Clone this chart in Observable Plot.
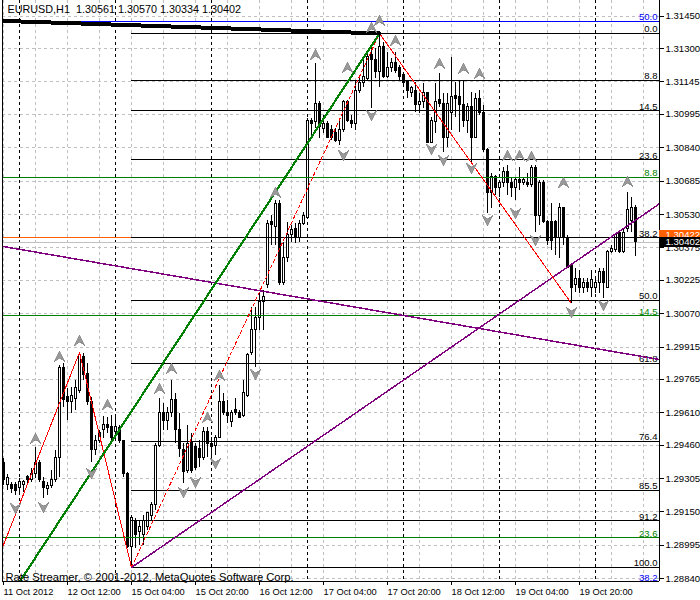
<!DOCTYPE html>
<html><head><meta charset="utf-8">
<script src="https://cdn.jsdelivr.net/npm/d3@7"></script>
<script src="https://cdn.jsdelivr.net/npm/@observablehq/plot@0.6"></script>
<style>body{margin:0;background:#fff}svg{shape-rendering:crispEdges}</style>
</head><body><div id="chart"></div>
<script>
// ---------- DATA ----------
const symbolName = "EURUSD,H1";
const openP = [1.29379,1.29277,1.29277,1.29277,1.29259,1.29273,1.29310,1.29296,1.29328,1.29375,1.29287,1.29254,1.29268,1.29296,1.29402,1.29820,1.29681,1.29662,1.29672,1.29713,
1.29867,1.29792,1.29658,1.29435,1.29481,1.29528,1.29551,1.29542,1.29519,1.29537,1.29477,1.29328,1.28985,1.29110,1.29055,1.29041,1.29078,1.29133,1.29180,1.29458,
1.29607,1.29574,1.29607,1.29667,1.29528,1.29435,1.29342,1.29472,1.29449,1.29444,1.29402,1.29519,1.29467,1.29458,1.29495,1.29658,1.29611,1.29565,1.29621,1.29607,
1.29597,1.29690,1.29885,1.29992,1.30048,1.30122,1.30201,1.30493,1.30470,1.30581,1.30210,1.30326,1.30433,1.30465,1.30419,1.30488,1.30516,1.30962,1.30957,1.31045,
1.30929,1.30952,1.30920,1.30910,1.30873,1.30920,1.31050,1.30966,1.30952,1.31105,1.31138,1.31161,1.31268,1.31245,1.31189,1.31305,1.31166,1.31208,1.31235,1.31208,
1.31175,1.31143,1.31096,1.31105,1.31036,1.31050,1.31092,1.30864,1.30957,1.31059,1.31045,1.30887,1.31003,1.31078,1.31073,1.31036,1.30966,1.31027,1.30887,1.31064,
1.30999,1.30827,1.30628,1.30702,1.30651,1.30674,1.30725,1.30674,1.30651,1.30688,1.30678,1.30678,1.30665,1.30748,1.30525,1.30678,1.30493,1.30493,1.30493,1.30419,
1.30558,1.30423,1.30293,1.30201,1.30233,1.30191,1.30210,1.30187,1.30191,1.30210,1.30261,1.30191,1.30354,1.30363,1.30442,1.30354,1.30465,1.30502,1.30561];
const highP = [1.29398,1.29324,1.29287,1.29287,1.29305,1.29296,1.29319,1.29352,1.29449,1.29389,1.29310,1.29287,1.29342,1.29435,1.29829,1.29839,1.29723,1.29727,1.29760,1.29890,
1.29885,1.29839,1.29681,1.29505,1.29528,1.29593,1.29588,1.29597,1.29588,1.29551,1.29481,1.29333,1.29133,1.29120,1.29110,1.29133,1.29143,1.29194,1.29467,1.29676,
1.29653,1.29635,1.29760,1.29700,1.29607,1.29467,1.29551,1.29514,1.29467,1.29481,1.29542,1.29542,1.29495,1.29505,1.29737,1.29700,1.29667,1.29621,1.29676,1.29621,
1.29760,1.29885,1.30099,1.30099,1.30168,1.30177,1.30502,1.30525,1.30595,1.30595,1.30400,1.30493,1.30479,1.30488,1.30502,1.30539,1.30976,1.30976,1.31231,1.31054,
1.30989,1.30962,1.30943,1.30929,1.30976,1.31059,1.31059,1.30989,1.31152,1.31161,1.31254,1.31282,1.31314,1.31300,1.31370,1.31328,1.31282,1.31254,1.31282,1.31221,
1.31184,1.31152,1.31124,1.31143,1.31092,1.31138,1.31096,1.30980,1.31138,1.31184,1.31092,1.31092,1.31259,1.31143,1.31152,1.31152,1.31045,1.31096,1.31092,1.31105,
1.31036,1.30836,1.30720,1.30711,1.30688,1.30748,1.30757,1.30702,1.30702,1.30748,1.30697,1.30720,1.30757,1.30757,1.30688,1.30688,1.30502,1.30581,1.30502,1.30581,
1.30563,1.30433,1.30303,1.30280,1.30270,1.30233,1.30233,1.30270,1.30233,1.30280,1.30280,1.30363,1.30386,1.30442,1.30446,1.30465,1.30632,1.30609,1.30570];
const lowP = [1.29273,1.29249,1.29236,1.29226,1.29236,1.29240,1.29282,1.29287,1.29305,1.29287,1.29212,1.29226,1.29259,1.29287,1.29310,1.29635,1.29574,1.29607,1.29621,1.29700,
1.29760,1.29644,1.29379,1.29412,1.29467,1.29491,1.29514,1.29481,1.29505,1.29467,1.29310,1.28980,1.28892,1.28980,1.28994,1.28994,1.29064,1.29110,1.29157,1.29449,
1.29528,1.29528,1.29588,1.29467,1.29402,1.29282,1.29328,1.29328,1.29342,1.29356,1.29389,1.29402,1.29402,1.29412,1.29491,1.29597,1.29560,1.29542,1.29597,1.29583,
1.29588,1.29681,1.29876,1.29820,1.29992,1.29992,1.30187,1.30386,1.30386,1.30201,1.30201,1.30307,1.30400,1.30395,1.30400,1.30479,1.30512,1.30883,1.30929,1.30883,
1.30906,1.30883,1.30873,1.30864,1.30850,1.30910,1.30957,1.30929,1.30920,1.31092,1.31119,1.31152,1.31022,1.31161,1.31119,1.31161,1.31161,1.31189,1.31184,1.31152,
1.31129,1.31068,1.31073,1.31003,1.30999,1.31022,1.30860,1.30860,1.30906,1.31027,1.30818,1.30841,1.30920,1.30980,1.30910,1.30934,1.30906,1.30771,1.30883,1.30989,
1.30818,1.30535,1.30558,1.30618,1.30609,1.30655,1.30618,1.30609,1.30595,1.30641,1.30665,1.30655,1.30655,1.30446,1.30479,1.30488,1.30386,1.30363,1.30340,1.30326,
1.30386,1.30280,1.30117,1.30168,1.30163,1.30163,1.30168,1.30145,1.30163,1.30163,1.30140,1.30187,1.30349,1.30354,1.30349,1.30349,1.30446,1.30446,1.30334];
const closeP = [1.29296,1.29305,1.29254,1.29249,1.29287,1.29287,1.29296,1.29328,1.29375,1.29296,1.29259,1.29268,1.29296,1.29402,1.29820,1.29667,1.29662,1.29686,1.29723,1.29876,
1.29783,1.29658,1.29435,1.29481,1.29514,1.29551,1.29537,1.29491,1.29542,1.29481,1.29328,1.28985,1.29120,1.29041,1.29078,1.29110,1.29143,1.29180,1.29458,1.29607,
1.29574,1.29607,1.29667,1.29528,1.29444,1.29333,1.29467,1.29342,1.29352,1.29402,1.29519,1.29467,1.29449,1.29495,1.29658,1.29607,1.29597,1.29607,1.29607,1.29588,
1.29700,1.29876,1.29992,1.30052,1.30122,1.30145,1.30488,1.30479,1.30581,1.30210,1.30330,1.30433,1.30456,1.30419,1.30488,1.30525,1.30966,1.30948,1.31045,1.30934,
1.30952,1.30887,1.30887,1.30873,1.30920,1.31050,1.30966,1.30952,1.31105,1.31138,1.31166,1.31259,1.31245,1.31189,1.31305,1.31166,1.31208,1.31235,1.31198,1.31166,
1.31138,1.31105,1.31115,1.31036,1.31050,1.31092,1.30864,1.30966,1.31050,1.31045,1.30887,1.31045,1.31073,1.31064,1.31036,1.30966,1.31027,1.30887,1.31068,1.31003,
1.30827,1.30628,1.30702,1.30651,1.30674,1.30725,1.30674,1.30651,1.30688,1.30678,1.30688,1.30665,1.30748,1.30525,1.30678,1.30493,1.30409,1.30409,1.30419,1.30558,
1.30423,1.30284,1.30191,1.30233,1.30191,1.30210,1.30187,1.30224,1.30214,1.30261,1.30214,1.30354,1.30372,1.30433,1.30354,1.30446,1.30549,1.30558,1.30402];

// price axis ticks and time labels (bar index of each label)
const priceTicks = [1.31450,1.31300,1.31145,1.30995,1.30840,1.30685,1.30530,1.30375,1.30225,1.30070,1.29915,1.29765,1.29610,1.29460,1.29305,1.29150,1.28995,1.28840];
const timeLabelIdx = [0,16,32,48,64,80,96,112,128,144];
const timeLabels = ["11 Oct 2012","12 Oct 12:00","15 Oct 04:00","15 Oct 20:00","16 Oct 12:00","17 Oct 04:00","17 Oct 20:00","18 Oct 12:00","19 Oct 04:00","19 Oct 20:00"];
const gridIdx = [0,8,16,24,32,40,48,56,64,72,80,88,96,104,112,120,128,136,144,152,160];
const daySepIdx = [4,28,52,76,100,124,148];

// Fibonacci levels
const fibBlackLevels = ["0.0","8.8","14.5","23.6","38.2","50.0","61.8","76.4","85.5","91.2","100.0"];
const fibBlackPrices = [1.31370,1.31152,1.31011,1.30785,1.30423,1.30131,1.29839,1.29477,1.29251,1.29110,1.28892];
const fibBlackStart = 32;
const fibGreenLevels = ["8.8","14.5","23.6"];
const fibGreenPrices = [1.30702,1.30061,1.29030];
const fibBlueLevels = ["50.0","38.2"];
const fibBluePrices = [1.31426,1.28827];

// zigzag pivots (bar index, price)
const zigIdx = [-1,19,32,94,142];
const zigPrice = [1.28950,1.29890,1.28892,1.31370,1.30117];
// trend lines (two anchor points each)
const greenTrend = [{i:0,p:1.28712},{i:94,p:1.31370}];
const blackTrend = [{i:-6,p:1.31432},{i:94,p:1.31370}];
const purpleDown = [{i:-0.25,p:1.30382},{i:164,p:1.29857}];
const purpleUp = [{i:32,p:1.28892},{i:164,p:1.30580}];

// fractal markers
const fracUpIdx = [8,14,19,26,39,42,51,54,68,78,86,92,94,98,109,115,119,126,129,132,140,156];
const fracUpPrice = [1.29491,1.29871,1.29945,1.29648,1.29723,1.29816,1.29588,1.29783,1.30632,1.31272,1.31212,1.31398,1.31430,1.31337,1.31231,1.31208,1.31184,1.30804,1.30804,1.30799,1.30678,1.30683];
const fracDnIdx = [3,10,22,45,48,53,63,85,92,107,110,117,121,128,133,142,150];
const fracDnPrice = [1.29166,1.29170,1.29328,1.29240,1.29287,1.29375,1.29788,1.30804,1.30989,1.30832,1.30781,1.30744,1.30502,1.30535,1.30409,1.30075,1.30108];

const askPrice = 1.30422;
const bidPrice = 1.30402;
const footerText = "Rate Streamer, © 2001-2012, MetaQuotes Software Corp.";

// ---------- BUILD ----------
const n = openP.length;
const bars = openP.map((o, i) => ({i, open: o, high: highP[i], low: lowP[i], close: closeP[i]}));
const last = bars[n - 1];
const f5 = d => d.toFixed(5);
const titleText = `${symbolName}\u00a0 ${f5(last.open)} ${f5(last.high)} ${f5(last.low)} ${f5(last.close)}`;
const fibBlack = fibBlackPrices.map((p, k) => ({p, label: fibBlackLevels[k]}));
const fibGreen = fibGreenPrices.map((p, k) => ({p, label: fibGreenLevels[k]}));
const fibBlue = fibBluePrices.map((p, k) => ({p, label: fibBlueLevels[k]}));
const zig = zigIdx.map((i, k) => ({i, p: zigPrice[k]}));
const legs = zig.slice(1).map((b, k) => ({a: zig[k], b}));
const fracUp = fracUpIdx.map((i, k) => ({i, p: fracUpPrice[k]}));
const fracDn = fracDnIdx.map((i, k) => ({i, p: fracDnPrice[k]}));

const X0 = -0.25, X1 = 164, XR = 174.25;
const arrowUp = {draw(ctx, size) { const r = Math.sqrt(size / Math.PI);
  ctx.moveTo(0, -r); ctx.lineTo(r, r); ctx.lineTo(0, r * 0.3); ctx.lineTo(-r, r); ctx.closePath(); }};
const arrowDn = {draw(ctx, size) { const r = Math.sqrt(size / Math.PI);
  ctx.moveTo(0, r); ctx.lineTo(r, -r); ctx.lineTo(0, -r * 0.3); ctx.lineTo(-r, -r); ctx.closePath(); }};

const gray = "#c0c0c0";
const chart = Plot.plot({
  width: 700, height: 600,
  marginLeft: 2, marginRight: 41, marginTop: 0, marginBottom: 19,
  x: {type: "linear", domain: [X0, X1], axis: null},
  y: {type: "linear", domain: [1.28827, 1.31523], axis: null},
  style: {background: "white", fontFamily: "'Liberation Sans', Arial, sans-serif", fontSize: "9px", color: "black"},
  marks: [
    Plot.ruleY(priceTicks, {stroke: gray, strokeDasharray: "3,3"}),
    Plot.ruleX(gridIdx, {stroke: gray, strokeDasharray: "3,3"}),
    Plot.ruleX(daySepIdx, {stroke: "black", strokeDasharray: "3,3"}),
    Plot.ruleY([bidPrice], {stroke: gray}),
    Plot.ruleY([askPrice], {stroke: "#ff6000"}),
    // candles
    Plot.ruleX(bars, {x: "i", y1: "low", y2: "high", stroke: "black"}),
    Plot.rect(bars, {x1: d => d.i - 0.25, x2: d => d.i + 0.25, y1: "open", y2: "close",
      fill: d => d.close >= d.open ? "white" : "black", stroke: "black"}),
    // fibonacci lines
    Plot.ruleY(fibBlack, {y: "p", x1: () => fibBlackStart, x2: () => X1, stroke: "black"}),
    Plot.ruleY(fibGreen, {y: "p", stroke: "green"}),
    Plot.ruleY(fibBlue, {y: "p", stroke: "blue"}),
    Plot.text(fibBlack, {x: () => X1, y: "p", text: "label", textAnchor: "end", lineAnchor: "bottom", dx: -2, dy: -1, fill: "black", fontSize: 9.5}),
    Plot.text(fibGreen, {x: () => X1, y: "p", text: "label", textAnchor: "end", lineAnchor: "bottom", dx: -2, dy: -1, fill: "green", fontSize: 9.5}),
    Plot.text(fibBlue, {x: () => X1, y: "p", text: "label", textAnchor: "end", lineAnchor: "bottom", dx: -2, dy: -1, fill: "blue", fontSize: 9.5}),
    // trend lines
    Plot.line(purpleDown, {x: "i", y: "p", stroke: "purple", clip: true}),
    Plot.line(purpleUp, {x: "i", y: "p", stroke: "purple", clip: true}),
    Plot.link(legs.filter((d, k) => k !== 2), {x1: d => d.a.i, y1: d => d.a.p, x2: d => d.b.i, y2: d => d.b.p, stroke: "red", clip: true}),
    Plot.link(legs.filter((d, k) => k === 2), {x1: d => d.a.i, y1: d => d.a.p, x2: d => d.b.i, y2: d => d.b.p, stroke: "red", strokeDasharray: "4,2", clip: true}),
    Plot.line(greenTrend, {x: "i", y: "p", stroke: "green", strokeWidth: 2.2, clip: true}),
    Plot.line(blackTrend, {x: "i", y: "p", stroke: "black", strokeWidth: 4, clip: true}),
    // fractals
    Plot.dot(fracUp, {x: "i", y: "p", symbol: arrowUp, r: 5.5, fill: "#999999", stroke: "#808080", strokeWidth: 0.6}),
    Plot.dot(fracDn, {x: "i", y: "p", symbol: arrowDn, r: 5.5, fill: "#999999", stroke: "#808080", strokeWidth: 0.6}),
    // frame
    Plot.ruleX([X0], {stroke: "black"}),
    Plot.ruleX([X1], {stroke: "black"}),
    Plot.ruleY([1.28827], {stroke: "black"}),
    // axes
    Plot.axisY(priceTicks, {anchor: "right", tickFormat: f5, tickSize: 4, tickPadding: 2, fontSize: 9.6, label: null}),
    Plot.axisX(timeLabelIdx, {anchor: "bottom", tickFormat: d => timeLabels[timeLabelIdx.indexOf(d)], tickSize: 4, tickPadding: 3, textAnchor: "start", fontSize: 9.3, label: null}),
    // price tags
    Plot.ruleY([askPrice], {x1: () => X1, x2: () => XR, stroke: "#ff6000", strokeWidth: 10, dy: -3, clip: false}),
    Plot.text([askPrice], {x: () => X1, y: d => d, text: f5, textAnchor: "start", dx: 6, dy: -3, fill: "white", fontSize: 9.6}),
    Plot.ruleY([bidPrice], {x1: () => X1, x2: () => XR, stroke: "black", strokeWidth: 10, clip: false}),
    Plot.text([bidPrice], {x: () => X1, y: d => d, text: f5, textAnchor: "start", dx: 6, fill: "white", fontSize: 9.6}),
    // title and footer
    Plot.text([titleText], {frameAnchor: "top-left", dx: 5, dy: 5, lineAnchor: "top", textAnchor: "start", fontSize: 10.8, fill: "black"}),
    Plot.text([footerText], {frameAnchor: "bottom-left", dx: 3, dy: -1, lineAnchor: "bottom", textAnchor: "start", fontSize: 11.2, fill: "black"})
  ]
});
document.getElementById("chart").appendChild(chart);
</script>
</body></html>
